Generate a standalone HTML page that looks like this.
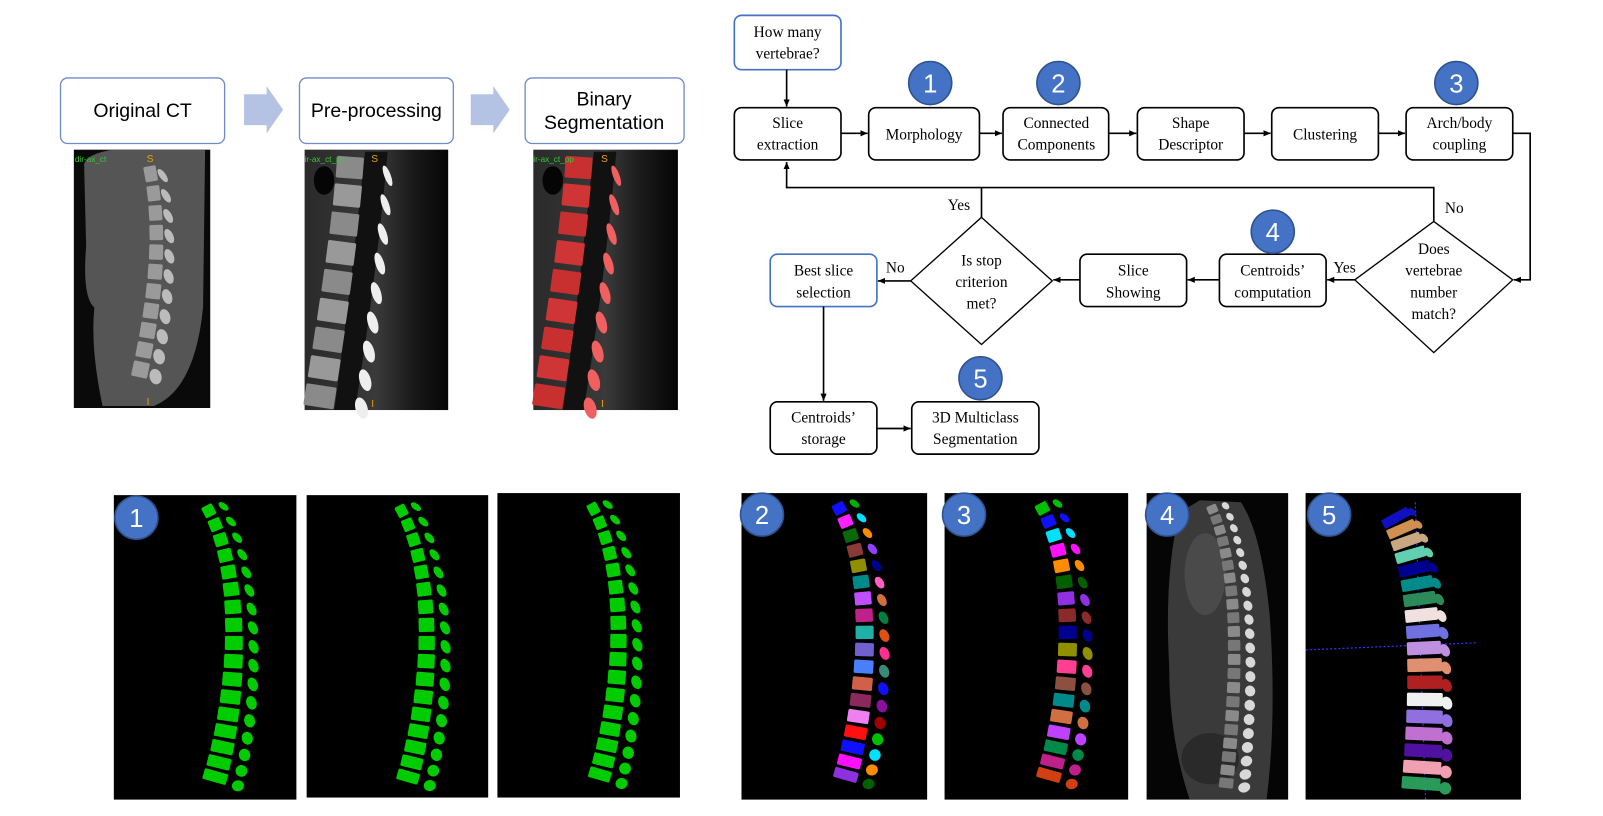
<!DOCTYPE html>
<html><head><meta charset="utf-8">
<style>
html,body{margin:0;padding:0;background:#fff;}
svg{display:block;}
.ser{font-family:"Liberation Serif",serif;font-size:15px;fill:#000;}
.san{font-family:"Liberation Sans",sans-serif;font-size:19px;fill:#000;}
.num{font-family:"Liberation Sans",sans-serif;font-size:25px;fill:#fff;}
</style></head>
<body>
<svg id="s" width="1603" height="816" viewBox="0 0 1563 796" preserveAspectRatio="none" xmlns="http://www.w3.org/2000/svg">
<defs>
<marker id="ar" markerWidth="8" markerHeight="8" refX="7" refY="4" orient="auto" markerUnits="userSpaceOnUse"><path d="M0,1 L7,4 L0,7 z" fill="#000"/></marker>
<linearGradient id="ppg" x1="0" x2="1"><stop offset="0" stop-color="#2a2a2a"/><stop offset="0.5" stop-color="#3a3a3a"/><stop offset="0.75" stop-color="#1a1a1a"/><stop offset="1" stop-color="#050505"/></linearGradient>
</defs>

<rect x="59" y="76" width="160" height="64" rx="7" fill="#fff" stroke="#6f8bc9" stroke-width="1.3"/>
<text class="san" x="139" y="114" text-anchor="middle">Original CT</text>
<path d="M238,92 H260 V84 L276,107 L260,130 V122 H238 Z" fill="#b4c3e3"/>
<rect x="292" y="76" width="150" height="64" rx="7" fill="#fff" stroke="#6f8bc9" stroke-width="1.3"/>
<text class="san" x="367" y="114" text-anchor="middle">Pre-processing</text>
<path d="M459,92 H481 V84 L497,107 L481,130 V122 H459 Z" fill="#b4c3e3"/>
<rect x="512" y="76" width="155" height="64" rx="7" fill="#fff" stroke="#6f8bc9" stroke-width="1.3"/>
<text class="san" x="589" y="103" text-anchor="middle">Binary</text>
<text class="san" x="589" y="126" text-anchor="middle">Segmentation</text>

<rect x="72" y="146" width="133" height="252" fill="#0a0a0a"/>
<path d="M82,160 Q85,150 110,146 L200,146 L198,300 Q190,380 150,396 L100,396 Q88,340 92,300 Q80,290 84,240 Z" fill="#555"/>
<g id="ct1"></g>
<text x="73" y="158" font-family="Liberation Sans" font-size="8" fill="#3c3">dir-ax_ct</text>
<text x="143" y="158" font-family="Liberation Sans" font-size="10" fill="#e8a000">S</text>
<text x="143" y="395" font-family="Liberation Sans" font-size="10" fill="#e8a000">I</text>

<rect x="297" y="146" width="140" height="254" fill="url(#ppg)"/>
<g id="ct2"></g>
<ellipse cx="316" cy="176" rx="10" ry="14" fill="#050505"/>
<text x="297" y="158" font-family="Liberation Sans" font-size="8" fill="#3c3">ir-ax_ct_pp</text>
<text x="362" y="158" font-family="Liberation Sans" font-size="10" fill="#e8a000">S</text>
<text x="362" y="397" font-family="Liberation Sans" font-size="10" fill="#e8a000">I</text>

<rect x="520" y="146" width="141" height="254" fill="url(#ppg)"/>
<g id="ct3"></g>
<ellipse cx="539" cy="176" rx="10" ry="14" fill="#050505"/>
<text x="520" y="158" font-family="Liberation Sans" font-size="8" fill="#3c3">ir-ax_ct_pp</text>
<text x="586" y="158" font-family="Liberation Sans" font-size="10" fill="#e8a000">S</text>
<text x="586" y="397" font-family="Liberation Sans" font-size="10" fill="#e8a000">I</text>

<g fill="#fff" stroke-width="1.6">
<rect x="716" y="15" width="104" height="53" rx="7" stroke="#4472c4"/>
<rect x="716" y="105" width="104" height="51" rx="7" stroke="#000"/>
<rect x="847" y="105" width="108" height="51" rx="7" stroke="#000"/>
<rect x="978" y="105" width="103" height="51" rx="7" stroke="#000"/>
<rect x="1109" y="105" width="104" height="51" rx="7" stroke="#000"/>
<rect x="1240" y="105" width="104" height="51" rx="7" stroke="#000"/>
<rect x="1371" y="105" width="104" height="51" rx="7" stroke="#000"/>
<rect x="751" y="248" width="104" height="51" rx="7" stroke="#4472c4"/>
<rect x="1053" y="248" width="104" height="51" rx="7" stroke="#000"/>
<rect x="1189" y="248" width="104" height="51" rx="7" stroke="#000"/>
<rect x="751" y="392" width="104" height="51" rx="7" stroke="#000"/>
<rect x="889" y="392" width="124" height="51" rx="7" stroke="#000"/>
<path d="M1398,216 L1475,273 L1398,344 L1321,273 Z" stroke="#000" stroke-width="1.3"/>
<path d="M957,212 L1026,274 L957,336 L888,274 Z" stroke="#000" stroke-width="1.3"/>
</g>
<g stroke="#000" stroke-width="1.6" fill="none">
<line x1="767" y1="68" x2="767" y2="104" marker-end="url(#ar)"/>
<line x1="820" y1="130" x2="846" y2="130" marker-end="url(#ar)"/>
<line x1="955" y1="130" x2="977" y2="130" marker-end="url(#ar)"/>
<line x1="1081" y1="130" x2="1108" y2="130" marker-end="url(#ar)"/>
<line x1="1213" y1="130" x2="1239" y2="130" marker-end="url(#ar)"/>
<line x1="1344" y1="130" x2="1370" y2="130" marker-end="url(#ar)"/>
<polyline points="1475,130 1492,130 1492,273 1476,273" marker-end="url(#ar)"/>
<polyline points="1398,216 1398,183 767,183 767,158" marker-end="url(#ar)"/>
<line x1="957" y1="212" x2="957" y2="183"/>
<line x1="1321" y1="273" x2="1294" y2="273" marker-end="url(#ar)"/>
<line x1="1189" y1="273" x2="1158" y2="273" marker-end="url(#ar)"/>
<line x1="1053" y1="273" x2="1027" y2="273" marker-end="url(#ar)"/>
<line x1="888" y1="274" x2="856" y2="274" marker-end="url(#ar)"/>
<line x1="803" y1="299" x2="803" y2="391" marker-end="url(#ar)"/>
<line x1="855" y1="418" x2="888" y2="418" marker-end="url(#ar)"/>
</g>
<g>
<text class="ser" x="768" y="36" text-anchor="middle">How many</text>
<text class="ser" x="768" y="57" text-anchor="middle">vertebrae?</text>
<text class="ser" x="768" y="125" text-anchor="middle">Slice</text>
<text class="ser" x="768" y="146" text-anchor="middle">extraction</text>
<text class="ser" x="901" y="136" text-anchor="middle">Morphology</text>
<text class="ser" x="1030" y="125" text-anchor="middle">Connected</text>
<text class="ser" x="1030" y="146" text-anchor="middle">Components</text>
<text class="ser" x="1161" y="125" text-anchor="middle">Shape</text>
<text class="ser" x="1161" y="146" text-anchor="middle">Descriptor</text>
<text class="ser" x="1292" y="136" text-anchor="middle">Clustering</text>
<text class="ser" x="1423" y="125" text-anchor="middle">Arch/body</text>
<text class="ser" x="1423" y="146" text-anchor="middle">coupling</text>
<text class="ser" x="803" y="269" text-anchor="middle">Best slice</text>
<text class="ser" x="803" y="290" text-anchor="middle">selection</text>
<text class="ser" x="1105" y="269" text-anchor="middle">Slice</text>
<text class="ser" x="1105" y="290" text-anchor="middle">Showing</text>
<text class="ser" x="1241" y="269" text-anchor="middle">Centroids’</text>
<text class="ser" x="1241" y="290" text-anchor="middle">computation</text>
<text class="ser" x="803" y="412" text-anchor="middle">Centroids’</text>
<text class="ser" x="803" y="433" text-anchor="middle">storage</text>
<text class="ser" x="951" y="412" text-anchor="middle">3D Multiclass</text>
<text class="ser" x="951" y="433" text-anchor="middle">Segmentation</text>
<text class="ser" x="1398" y="248" text-anchor="middle">Does</text>
<text class="ser" x="1398" y="269" text-anchor="middle">vertebrae</text>
<text class="ser" x="1398" y="290" text-anchor="middle">number</text>
<text class="ser" x="1398" y="311" text-anchor="middle">match?</text>
<text class="ser" x="957" y="259" text-anchor="middle">Is stop</text>
<text class="ser" x="957" y="280" text-anchor="middle">criterion</text>
<text class="ser" x="957" y="301" text-anchor="middle">met?</text>
<text class="ser" x="935" y="205" text-anchor="middle">Yes</text>
<text class="ser" x="1418" y="208" text-anchor="middle">No</text>
<text class="ser" x="1311" y="266" text-anchor="middle">Yes</text>
<text class="ser" x="873" y="266" text-anchor="middle">No</text>
</g>
<g id="circles"></g>

<rect x="111" y="483" width="178" height="297" fill="#000"/>
<rect x="299" y="483" width="177" height="295" fill="#000"/>
<rect x="485" y="481" width="178" height="297" fill="#000"/>
<rect x="723" y="481" width="181" height="299" fill="#000"/>
<rect x="921" y="481" width="179" height="299" fill="#000"/>
<rect x="1118" y="481" width="138" height="299" fill="#050505"/>
<rect x="1273" y="481" width="210" height="299" fill="#000"/>
<path d="M1150,500 Q1135,560 1140,650 Q1140,720 1160,780 L1235,780 Q1245,700 1238,600 Q1230,520 1210,490 L1170,488 Z" fill="#3a3a3a"/>
<ellipse cx="1175" cy="560" rx="20" ry="40" fill="#4a4a4a"/>
<ellipse cx="1180" cy="740" rx="28" ry="25" fill="#2a2a2a"/>
<line x1="1273" y1="634" x2="1440" y2="627" stroke="#33f" stroke-width="1.2" stroke-dasharray="2 2"/>
<line x1="1380" y1="490" x2="1390" y2="780" stroke="#33f" stroke-width="1.2" stroke-dasharray="2 2"/>
<g id="spines"></g>
<g id="bcircles"></g>
</svg>
<script>
var NS="http://www.w3.org/2000/svg";
function el(p,t,a){var e=document.createElementNS(NS,t);for(var k in a)e.setAttribute(k,a[k]);p.appendChild(e);return e;}
function bez(P,t){var u=1-t;return[u*u*u*P[0][0]+3*u*u*t*P[1][0]+3*u*t*t*P[2][0]+t*t*t*P[3][0],u*u*u*P[0][1]+3*u*u*t*P[1][1]+3*u*t*t*P[2][1]+t*t*t*P[3][1]];}
function spine(g,P,cols,N,w0,w1,post,off){
  for(var i=0;i<N;i++){
    var t=(i+0.5)/N,p=bez(P,t),q=bez(P,Math.min(1,t+0.01)),r=bez(P,Math.max(0,t-0.01));
    var ang=Math.atan2(q[1]-r[1],q[0]-r[0])*180/Math.PI-90;
    var a=bez(P,(i+1)/N),b=bez(P,i/N);
    var segL=Math.hypot(a[0]-b[0],a[1]-b[1]);
    var w=w0+(w1-w0)*t,h=segL*0.78,c=cols[i%cols.length];
    var gg=el(g,"g",{transform:"translate("+p[0]+","+p[1]+") rotate("+ang+")"});
    if(post){var pc=post[i%post.length];var cx=w/2+off+3*t;
      el(gg,"ellipse",{cx:cx,cy:h*0.25,rx:3+3*t,ry:h*0.5,fill:pc,transform:"rotate(-25 "+cx+" "+(h*0.25)+")"});}
    el(gg,"rect",{x:-w/2,y:-h/2,width:w,height:h,fill:c,rx:1.5});
  }
}
var S=document.getElementById("spines");
var G=["#0c0"],GR=["#00cc00"];
var pathA=function(x,y){return[[x,y],[x+42,y+70],[x+30,y+200],[x+8,y+272]];};
spine(S,pathA(200,492),G,17,11,24,GR,9);
spine(S,pathA(388,492),G,17,10,22,GR,9);
spine(S,pathA(575,490),G,17,10,22,GR,9);
var C2=["#1010ff","#ff22ff","#0a6a0a","#8b3a3a","#8f8f00","#008b8b","#c050ff","#c0208a","#20b0a8","#7060d0","#4a80ff","#d0604a","#8b2a5a","#f080f0","#ff1010","#1010ff","#ff10ff","#9030e0"];
var P2=["#00b000","#00e0ff","#ff8c00","#9040ff","#000090","#ff60c0","#d07040","#008040","#e05010","#ff3090","#3a8a7a","#1010ff","#8a10a0","#a00000","#00c000","#00e0ff","#ff8c00","#006000"];
spine(S,pathA(815,490),C2,18,12,24,P2,9);
var C3=["#00c000","#1010ff","#00e0ff","#ff10ff","#ff8c00","#006000","#9030e0","#8b2a2a","#000090","#8f8f00","#ff4090","#8b5040","#008b8b","#d07040","#c040ff","#008a4a","#c0208a","#d04010"];
spine(S,pathA(1013,490),C3,18,12,24,C3,9);
spine(S,[[1180,492],[1212,560],[1205,680],[1195,770]],["#8a8a8a","#777"],22,10,14,["#d8d8d8"],8);
var C7=["#1010c0","#d09050","#c8a880","#60d0b0","#000090","#008b8b","#2a8a5a","#f0e0e0","#7070e0","#c090e0","#e09070","#b02020","#f0f0f0","#9070e0","#c070d0","#5010a0","#f0a0b0","#2a9a5a"];
spine(S,[[1358,500],[1395,560],[1392,680],[1385,772]],C7,18,28,38,C7,2);
var ct1=document.getElementById("ct1");
spine(ct1,[[145,160],[160,230],[150,300],[135,370]],["#9a9a9a"],11,12,16,["#bbb"],5);
var ct2=document.getElementById("ct2");
el(ct2,"path",{d:"M356,148 L378,148 Q366,280 346,400 L326,400 Q342,280 356,148 Z",fill:"#111"});
spine(ct2,[[342,150],[337,230],[322,320],[310,400]],["#8a8a8a","#999"],9,26,30,["#eee"],24);
var ct3=document.getElementById("ct3");
el(ct3,"path",{d:"M579,148 L601,148 Q589,280 569,400 L549,400 Q565,280 579,148 Z",fill:"#111"});
spine(ct3,[[565,150],[560,230],[545,320],[533,400]],["#c83030","#d03535"],9,26,30,["#f06060"],24);
function circ(g,x,y,n,r){el(g,"circle",{cx:x,cy:y,r:r,fill:"#4472c4",stroke:"#2f528f","stroke-width":1.5});var t=el(g,"text",{x:x,y:y+9,"text-anchor":"middle","class":"num"});t.textContent=n;}
var Cg=document.getElementById("circles");
circ(Cg,907,81,"1",21);circ(Cg,1032,81,"2",21);circ(Cg,1420,81,"3",21);circ(Cg,1241,226,"4",21);circ(Cg,956,369,"5",21);
var Bg=document.getElementById("bcircles");
circ(Bg,133,505,"1",21);circ(Bg,743,502,"2",21);circ(Bg,940,502,"3",21);circ(Bg,1138,502,"4",21);circ(Bg,1296,502,"5",21);
</script>
</body></html>
